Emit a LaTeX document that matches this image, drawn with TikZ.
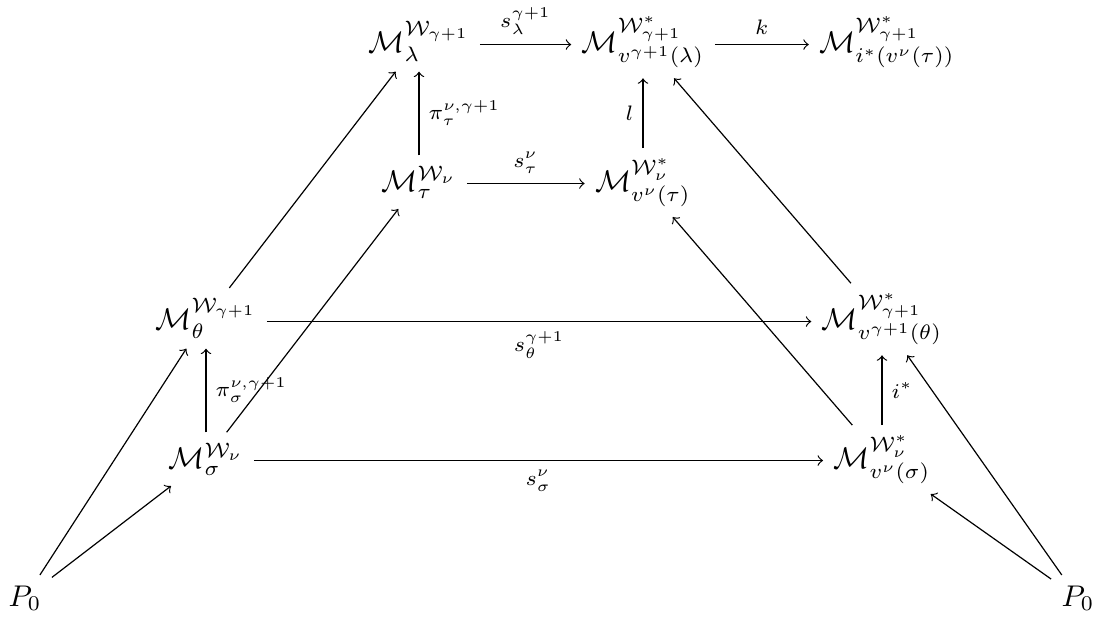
\documentclass[tikz,border=0pt]{standalone}
\usepackage{amsmath}
\begin{document}
\begin{tikzpicture}[x=0.334pt,y=-0.334pt,
  obj/.style={anchor=base, inner sep=3.333pt},
  arr/.style={->},
  lab/.style={inner sep=3pt}]
\useasboundingbox (0,0) rectangle (1094,616);
% objects
\node[obj] (L)   at (419,52)  {$\mathcal{M}_{\lambda}^{\mathcal{W}_{\gamma+1}}$};
\node[obj] (VL)  at (643,52)  {$\mathcal{M}_{v^{\gamma+1}(\lambda)}^{\mathcal{W}^*_{\gamma+1}}$};
\node[obj] (I)   at (887,52)  {$\mathcal{M}_{i^*(v^{\nu}(\tau))}^{\mathcal{W}^*_{\gamma+1}}$};
\node[obj] (T)   at (419,191) {$\mathcal{M}_{\tau}^{\mathcal{W}_{\nu}}$};
\node[obj] (VT)  at (643,191) {$\mathcal{M}_{v^{\nu}(\tau)}^{\mathcal{W}^*_{\nu}}$};
\node[obj] (TH)  at (206,329) {$\mathcal{M}_{\theta}^{\mathcal{W}_{\gamma+1}}$};
\node[obj] (VTH) at (882,329) {$\mathcal{M}_{v^{\gamma+1}(\theta)}^{\mathcal{W}^*_{\gamma+1}}$};
\node[obj] (S)   at (206,468) {$\mathcal{M}_{\sigma}^{\mathcal{W}_{\nu}}$};
\node[obj] (VS)  at (882,468) {$\mathcal{M}_{v^{\nu}(\sigma)}^{\mathcal{W}^*_{\nu}}$};
\node[obj] (P1)  at (25,606)   {$P_0$};
\node[obj] (P2)  at (1078,606) {$P_0$};
% horizontal arrows
\draw[arr] ([yshift=2.5pt]L.base east) -- node[lab,above] {$\scriptstyle s_{\lambda}^{\gamma+1}$} ([yshift=2.5pt]VL.base west);
\draw[arr] ([yshift=2.5pt]VL.base east) -- node[lab,above] {$\scriptstyle k$} ([yshift=2.5pt]I.base west);
\draw[arr] ([yshift=2.5pt]T.base east) -- node[lab,above] {$\scriptstyle s_{\tau}^{\nu}$} ([yshift=2.5pt]VT.base west);
\draw[arr] ([yshift=2.5pt]TH.base east) -- node[lab,below] {$\scriptstyle s_{\theta}^{\gamma+1}$} ([yshift=2.5pt]VTH.base west);
\draw[arr] ([yshift=2.5pt]S.base east) -- node[lab,below] {$\scriptstyle s_{\sigma}^{\nu}$} ([yshift=2.5pt]VS.base west);
% vertical arrows
\draw[arr] (T.north) -- node[lab,right] {$\scriptstyle \pi_{\tau}^{\nu,\gamma+1}$} (T.north |- L.south);
\draw[arr] (VT.north) -- node[lab,left] {$\scriptstyle l$} (VT.north |- VL.south);
\draw[arr] (S.north) -- node[lab,right] {$\scriptstyle \pi_{\sigma}^{\nu,\gamma+1}$} (S.north |- TH.south);
\draw[arr] (VS.north) -- node[lab,right] {$\scriptstyle i^*$} (VS.north |- VTH.south);
% diagonal arrows
\draw[arr] (TH) -- (L);
\draw[arr] (S) -- (T);
\draw[arr] (VTH) -- (VL);
\draw[arr] (VS) -- (VT);
\draw[arr] (P1) -- (TH);
\draw[arr] (P1) -- (S);
\draw[arr] (P2) -- (VTH);
\draw[arr] (P2) -- (VS);
\end{tikzpicture}
\end{document}
